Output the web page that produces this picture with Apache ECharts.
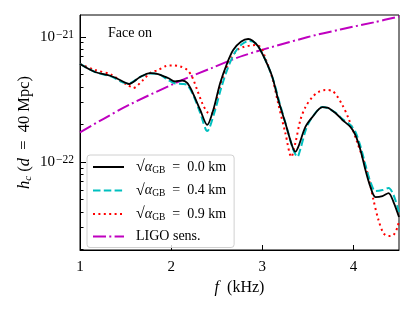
<!DOCTYPE html>
<html>
<head>
<meta charset="utf-8">
<script src="https://cdn.jsdelivr.net/npm/echarts@6/dist/echarts.min.js"></script>
<style>html,body{margin:0;padding:0;background:#fff}#c{width:415px;height:311px}</style>
</head>
<body>
<div id="c"></div>
<script>
// ---- data (f in kHz, h_c dimensionless) ----
const freqBlack = [1.000,1.165,1.341,1.505,1.538,1.659,1.769,1.857,1.967,2.044,2.121,2.176,2.231,2.319,2.396,2.462,2.538,2.615,2.681,2.769,2.846,2.890,2.956,3.033,3.110,3.176,3.253,3.330,3.363,3.396,3.473,3.549,3.659,3.714,3.802,3.879,3.967,4.022,4.077,4.132,4.187,4.242,4.319,4.385,4.440,4.500];
const hBlack = [6.08e-22,5.25e-22,4.88e-22,4.29e-22,4.21e-22,4.79e-22,5.15e-22,5.06e-22,4.70e-22,4.41e-22,4.49e-22,4.29e-22,3.66e-22,2.61e-22,1.98e-22,2.61e-22,4.29e-22,6.19e-22,7.87e-22,9.20e-22,9.64e-22,9.37e-22,8.39e-22,6.55e-22,4.79e-22,3.13e-22,2.05e-22,1.33e-22,1.21e-22,1.33e-22,1.91e-22,2.29e-22,2.75e-22,2.73e-22,2.47e-22,2.17e-22,1.91e-22,1.64e-22,1.25e-22,8.63e-23,6.31e-23,5.25e-23,5.35e-23,5.65e-23,4.79e-23,3.63e-23];

const freqCyan = [1.000,1.165,1.341,1.505,1.549,1.659,1.769,1.857,1.967,2.044,2.121,2.176,2.242,2.319,2.396,2.473,2.549,2.626,2.703,2.780,2.857,2.901,2.967,3.044,3.121,3.187,3.264,3.341,3.385,3.418,3.484,3.549,3.659,3.714,3.802,3.879,3.967,4.022,4.077,4.132,4.187,4.242,4.319,4.385,4.440,4.500];
const hCyan = [6.10e-22,5.25e-22,4.84e-22,4.29e-22,4.29e-22,4.79e-22,5.10e-22,5.06e-22,4.53e-22,4.25e-22,4.21e-22,4.13e-22,3.44e-22,2.47e-22,1.77e-22,2.47e-22,3.91e-22,5.75e-22,7.59e-22,8.79e-22,9.29e-22,9.20e-22,8.17e-22,6.31e-22,4.53e-22,3.02e-22,1.94e-22,1.25e-22,1.10e-22,1.27e-22,1.87e-22,2.29e-22,2.75e-22,2.70e-22,2.49e-22,2.21e-22,1.98e-22,1.74e-22,1.34e-22,9.46e-23,6.92e-23,5.86e-23,5.97e-23,6.19e-23,5.45e-23,3.98e-23];

const freqRed = [1.000,1.165,1.341,1.451,1.527,1.582,1.692,1.769,1.857,1.945,2.011,2.099,2.176,2.231,2.286,2.341,2.396,2.440,2.473,2.516,2.571,2.648,2.725,2.791,2.868,2.934,2.989,3.033,3.110,3.176,3.253,3.319,3.363,3.418,3.473,3.549,3.615,3.692,3.769,3.824,3.879,3.945,4.044,4.110,4.165,4.220,4.275,4.330,4.385,4.440,4.484,4.500];
const hRed = [6.08e-22,5.45e-22,5.01e-22,4.41e-22,4.13e-22,3.91e-22,4.53e-22,5.15e-22,5.45e-22,5.86e-22,5.92e-22,5.81e-22,5.45e-22,4.79e-22,3.77e-22,2.96e-22,2.51e-22,2.42e-22,2.65e-22,3.56e-22,4.79e-22,6.55e-22,7.87e-22,8.32e-22,8.55e-22,8.63e-22,8.17e-22,6.79e-22,4.70e-22,2.91e-22,1.71e-22,1.10e-22,1.42e-22,2.17e-22,2.75e-22,3.31e-22,3.63e-22,3.77e-22,3.70e-22,3.34e-22,2.86e-22,2.25e-22,1.42e-22,1.04e-22,7.59e-23,4.97e-23,3.44e-23,2.70e-23,2.56e-23,2.61e-23,3.02e-23,3.44e-23];

const freqLigo = [1.000,1.264,1.527,2.077,2.443,2.791,3.491,3.857,4.223,4.500];
const hLigo = [1.73e-22,2.23e-22,2.84e-22,4.38e-22,5.64e-22,7.10e-22,9.95e-22,1.15e-21,1.31e-21,1.46e-21];

const seriesNames = ['0.0 km','0.4 km','0.9 km','LIGO sens.'];
const xTicks = [1,2,3,4];
const yMajorTicks = [1e-22,1e-21];
const yMinorTicks = [2e-23,3e-23,4e-23,5e-23,6e-23,7e-23,8e-23,9e-23,2e-22,3e-22,4e-22,5e-22,6e-22,7e-22,8e-22,9e-22];
const xRange = [1,4.5];
const yRange = [1.98e-23,1.5e-21];
const annotation = 'Face on';

// ---- chart ----
const FONT = 'Liberation Serif';
const pairs = (xs, ys) => xs.map((x,i)=>[x, ys[i]]);
const lg = v => Math.log10(v);
const chart = echarts.init(document.getElementById('c'), null, {renderer:'canvas'});
// tick-only axes live in log10 space, aligned with the log axis carrying the series
const tickAxisBase = {type:'value', min:lg(yRange[0]), max:lg(yRange[1]), position:'left',
  splitLine:{show:false}, axisLine:{show:false}};
chart.setOption({
  animation:false,
  backgroundColor:'#fff',
  title:{text:annotation, left:108, top:26, padding:0,
    textStyle:{fontFamily:FONT, fontSize:14, fontWeight:'normal', color:'#000'}},
  grid:{left:80, right:16, top:15, bottom:61, show:true, borderColor:'#000', borderWidth:1,
    containLabel:false, outerBoundsMode:'none'},
  xAxis:{type:'value', min:xRange[0], max:xRange[1],
    name:'{i|f}  (kHz)', nameLocation:'middle', nameGap:26,
    nameTextStyle:{fontFamily:FONT, fontSize:16, color:'#000',
      rich:{i:{fontStyle:'italic', fontFamily:FONT, fontSize:16}}},
    axisLine:{lineStyle:{color:'#000', width:1}},
    axisTick:{inside:true, length:5, lineStyle:{color:'#000'}, customValues:xTicks},
    axisLabel:{customValues:xTicks, margin:10, fontFamily:FONT, fontSize:15, color:'#000'},
    splitLine:{show:false}},
  yAxis:[
    {type:'log', logBase:10, min:yRange[0], max:yRange[1], position:'left',
      splitLine:{show:false}, minorTick:{show:false}, axisTick:{show:false}, axisLabel:{show:false},
      name:'{i|h}{s|c} ({i|d}  =  40 Mpc)', nameLocation:'middle', nameGap:46, nameRotate:90,
      nameTextStyle:{fontFamily:FONT, fontSize:16.5, color:'#000',
        rich:{i:{fontStyle:'italic', fontFamily:FONT, fontSize:16.5, lineHeight:18},
              s:{fontStyle:'italic', fontFamily:FONT, fontSize:11, lineHeight:9, verticalAlign:'bottom'}}},
      axisLine:{show:true, lineStyle:{color:'#000', width:1}}},
    Object.assign({}, tickAxisBase, {
      axisTick:{inside:true, length:6, lineStyle:{color:'#000'}, customValues:yMajorTicks.map(lg)},
      axisLabel:{customValues:yMajorTicks.map(lg), margin:6, color:'#000',
        formatter:v=>'{b|10}{s|\u2212'+Math.abs(Math.round(v))+'}',
        rich:{b:{fontFamily:FONT, fontSize:15, lineHeight:16, verticalAlign:'middle'},
              s:{fontFamily:FONT, fontSize:11.5, lineHeight:10, verticalAlign:'top', padding:[0,0,0,1]}}}
    }),
    Object.assign({}, tickAxisBase, {
      axisTick:{inside:true, length:3.5, lineStyle:{color:'#000'}, customValues:yMinorTicks.map(lg)},
      axisLabel:{show:false}
    })
  ],
  legend:{
    orient:'vertical', left:87, top:155, padding:[4,8,4,5],
    backgroundColor:'rgba(255,255,255,0.8)', borderColor:'#d0d0d0', borderWidth:1, borderRadius:3,
    itemWidth:31, itemHeight:14, itemGap:7.5,
    itemStyle:{color:'rgba(0,0,0,0)', borderWidth:0, opacity:0},
    data:seriesNames,
    formatter:n => n==='LIGO sens.' ? '{t|LIGO sens.}' : '{r|\u221A}{a|\u03B1}{s|GB}{t|  =  '+n+'}',
    textStyle:{fontFamily:FONT, fontSize:14, color:'#000', padding:[0,0,0,7],
      rich:{t:{fontFamily:FONT, fontSize:14, lineHeight:16, verticalAlign:'middle'},
            r:{fontFamily:FONT, fontSize:16, lineHeight:16, verticalAlign:'middle'},
            a:{fontFamily:FONT, fontStyle:'italic', fontSize:14, lineHeight:16, verticalAlign:'middle'},
            s:{fontFamily:FONT, fontSize:9.5, lineHeight:9, verticalAlign:'bottom'}}}
  },
  series:[
    {name:seriesNames[0], type:'line', data:pairs(freqBlack,hBlack), showSymbol:false, symbol:'none', smooth:0.3,
     lineStyle:{color:'#000000', width:1.8, type:'solid'}, itemStyle:{color:'#000000'}, z:4},
    {name:seriesNames[1], type:'line', data:pairs(freqCyan,hCyan), showSymbol:false, symbol:'none', smooth:0.3,
     lineStyle:{color:'#00BFBF', width:2, type:[7.5,3.3]}, itemStyle:{color:'#00BFBF'}, z:3},
    {name:seriesNames[2], type:'line', data:pairs(freqRed,hRed), showSymbol:false, symbol:'none', smooth:0.3,
     lineStyle:{color:'#FF0000', width:2, type:[2,3.4]}, itemStyle:{color:'#FF0000'}, z:2},
    {name:seriesNames[3], type:'line', data:pairs(freqLigo,hLigo), showSymbol:false, symbol:'none', smooth:0.3,
     lineStyle:{color:'#BF00BF', width:2, type:[13,3.3,2,3.3]}, itemStyle:{color:'#BF00BF'}, z:1}
  ]
});
</script>
</body>
</html>
